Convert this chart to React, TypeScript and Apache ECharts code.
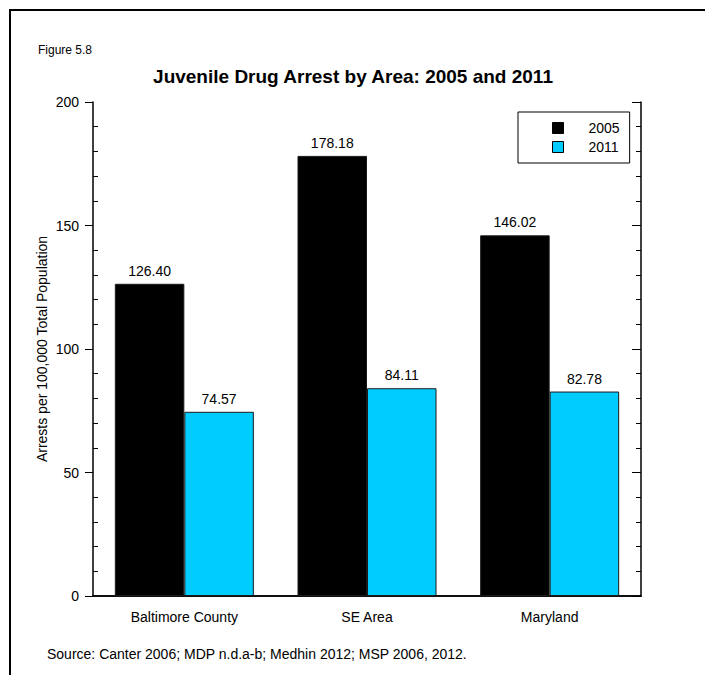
import React, { useEffect, useRef } from "react";
import * as echarts from "echarts";

const categories = ["Baltimore County", "SE Area", "Maryland"];
const series2005 = [126.4, 178.18, 146.02];
const series2011 = [74.57, 84.11, 82.78];
const seriesNames = ["2005", "2011"];
const yTicks = { min: 0, max: 200, interval: 50 };

const FONT = "'Liberation Sans', Arial, Helvetica, sans-serif";

export default function App() {
  const ref = useRef<HTMLDivElement>(null);
  useEffect(() => {
    if (!ref.current) return;
    const chart = echarts.init(ref.current, null, { renderer: "svg" });
    const axisLine = { show: true, lineStyle: { color: "#000", width: 1.5 } };
    const baseY = {
      type: "value" as const,
      min: yTicks.min,
      max: yTicks.max,
      interval: yTicks.interval,
      splitLine: { show: false },
    };
    chart.setOption({
      animation: false,
      textStyle: { fontFamily: FONT, color: "#000" },
      title: {
        text: "Juvenile Drug Arrest by Area: 2005 and 2011",
        left: 337,
        textAlign: "center",
        top: 51,
        textStyle: { fontFamily: FONT, fontSize: 19, fontWeight: "bold", color: "#000" },
      },
      legend: {
        data: seriesNames,
        orient: "vertical",
        left: 507,
        top: 101,
        padding: [9, 10, 9, 34],
        itemGap: 5,
        itemWidth: 11,
        itemHeight: 11,
        icon: "rect",
        borderColor: "#000",
        borderWidth: 1,
        backgroundColor: "#fff",
        itemStyle: { borderColor: "#000", borderWidth: 1 },
        textStyle: { fontFamily: FONT, fontSize: 14, color: "#000", padding: [0, 0, 0, 20] },
      },
      grid: { left: 82, top: 91, width: 548, height: 494, containLabel: false },
      xAxis: [
        {
          type: "category",
          data: categories,
          position: "bottom",
          axisLine,
          axisTick: { show: false },
          axisLabel: { fontFamily: FONT, fontSize: 14, color: "#000", margin: 14 },
        },
        {
          type: "category",
          data: categories,
          position: "top",
          axisLine,
          axisTick: { show: false },
          axisLabel: { show: false },
        },
      ],
      yAxis: [
        {
          ...baseY,
          position: "left",
          name: "Arrests per 100,000 Total Population",
          nameLocation: "middle",
          nameGap: 44,
          nameMoveOverlap: false,
          nameTextStyle: { fontFamily: FONT, fontSize: 14, color: "#000" },
          axisLine,
          axisTick: { show: true, inside: false, length: 8, lineStyle: { color: "#000", width: 1 } },
          axisLabel: { fontFamily: FONT, fontSize: 14, color: "#000", margin: 14 },
        },
        {
          ...baseY,
          position: "left",
          axisLine: { show: false },
          axisTick: { show: false, inside: true },
          axisLabel: { show: false },
          minorTick: { show: true, splitNumber: 5, length: 5, lineStyle: { color: "#000", width: 1 } },
        },
        {
          ...baseY,
          position: "right",
          axisLine,
          axisTick: { show: true, inside: true, length: 9, lineStyle: { color: "#000", width: 1 } },
          axisLabel: { show: false },
          minorTick: { show: true, splitNumber: 5, length: 5, lineStyle: { color: "#000", width: 1 } },
        },
      ],
      series: [
        {
          name: seriesNames[0],
          type: "bar",
          data: series2005,
          barWidth: 69.5,
          barGap: "0%",
          itemStyle: { color: "#000000", borderColor: "#1a1a1a", borderWidth: 1 },
          label: {
            show: true,
            position: "top",
            distance: 6,
            formatter: (p: any) => Number(p.value).toFixed(2),
            fontFamily: FONT,
            fontSize: 14,
            color: "#000",
          },
        },
        {
          name: seriesNames[1],
          type: "bar",
          data: series2011,
          barWidth: 69.5,
          barGap: "0%",
          itemStyle: { color: "#00CCFF", borderColor: "#1a1a1a", borderWidth: 1 },
          label: {
            show: true,
            position: "top",
            distance: 6,
            formatter: (p: any) => Number(p.value).toFixed(2),
            fontFamily: FONT,
            fontSize: 14,
            color: "#000",
          },
        },
      ],
      graphic: [
        {
          type: "text",
          left: 27,
          top: 33,
          style: { text: "Figure 5.8", font: `12px ${FONT}`, fill: "#000" },
        },
        {
          type: "text",
          left: 36,
          top: 636,
          style: {
            text: "Source: Canter 2006; MDP n.d.a-b; Medhin 2012; MSP 2006, 2012.",
            font: `14px ${FONT}`,
            fill: "#000",
          },
        },
      ],
    });
    return () => chart.dispose();
  }, []);

  return (
    <div
      style={{
        width: 704,
        height: 666,
        marginLeft: 1,
        marginTop: 1,
        borderLeft: "2px solid #000",
        borderTop: "2px solid #000",
        boxSizing: "border-box",
        overflow: "hidden",
      }}
    >
      <div ref={ref} style={{ width: 702, height: 664 }} />
    </div>
  );
}
